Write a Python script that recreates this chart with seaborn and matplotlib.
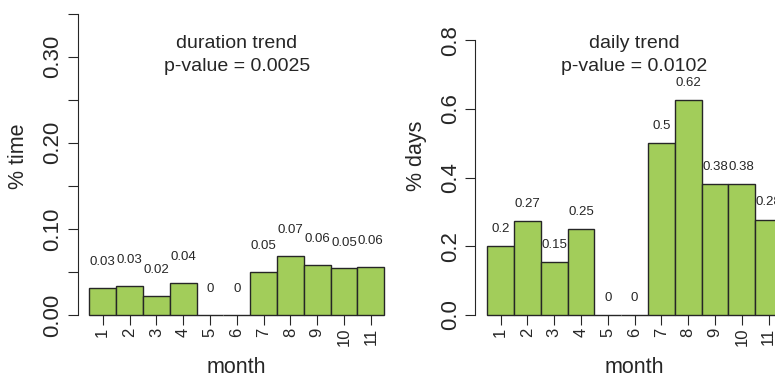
import matplotlib
matplotlib.use("Agg")
import matplotlib.pyplot as plt
import seaborn as sns

# data
months = [1, 2, 3, 4, 5, 6, 7, 8, 9, 10, 11]
month_labels = ["1", "2", "3", "4", "5", "6", "7", "8", "9", "10", "11"]

duration_vals = [0.031, 0.034, 0.022, 0.037, 0.0, 0.0, 0.050, 0.069, 0.058, 0.054, 0.056]
duration_text = ["0.03", "0.03", "0.02", "0.04", "0", "0", "0.05", "0.07", "0.06", "0.05", "0.06"]
duration_title = "duration trend\np-value = 0.0025"
duration_ticks = [0.0, 0.05, 0.10, 0.15, 0.20, 0.25, 0.30, 0.35]
duration_ticklabels = ["0.00", "", "0.10", "", "0.20", "", "0.30", ""]

daily_vals = [0.20, 0.273, 0.153, 0.25, 0.0, 0.0, 0.50, 0.626, 0.381, 0.381, 0.278]
daily_text = ["0.2", "0.27", "0.15", "0.25", "0", "0", "0.5", "0.62", "0.38", "0.38", "0.28"]
daily_title = "daily trend\np-value = 0.0102"
daily_ticks = [0.0, 0.2, 0.4, 0.6, 0.8]
daily_ticklabels = ["0.0", "0.2", "0.4", "0.6", "0.8"]

sns.set_style("ticks")
plt.rcParams["font.family"] = ["Liberation Sans", "DejaVu Sans"]

BAR = "#a2cd5a"
INK = "#262626"

fig = plt.figure(figsize=(7.75, 3.78), dpi=100)


def panel(rect, vals, texts, title, ylabel, yticks, yticklabels, ytop, offset):
    ax = fig.add_axes(rect)
    sns.barplot(x=months, y=vals, native_scale=True, width=1, color=BAR,
                saturation=1, edgecolor=INK, linewidth=1.0, ax=ax)
    for p in ax.patches:
        p.set_clip_on(False)
    ax.set_xlim(0.06, 11.94)
    ax.set_ylim(0, ytop)
    ax.set_xticks(months)
    ax.set_xticklabels(month_labels, rotation=90, fontsize=12, color=INK)
    ax.set_yticks(yticks)
    ax.set_yticklabels(yticklabels, rotation=90, fontsize=16, color=INK, va="center")
    ax.tick_params(axis="x", length=7, width=0.8, color=INK, pad=2)
    ax.tick_params(axis="y", length=7.2, width=0.8, color=INK, pad=3)
    for s in ["top", "right", "bottom"]:
        ax.spines[s].set_visible(False)
    ax.spines["left"].set_color(INK)
    ax.spines["left"].set_linewidth(0.8)
    ax.spines["left"].set_bounds(yticks[0], yticks[-1])

    for m, v, t in zip(months, vals, texts):
        ax.text(m, v + offset, t, ha="center", va="center", fontsize=9.5, color=INK)

    ax.text(0.5, 0.838, title, transform=ax.transAxes, ha="center", va="center",
            fontsize=14, color=INK, linespacing=1.45)

    ax.set_xlabel("month", fontsize=15.5, color=INK)
    ax.xaxis.set_label_coords(0.5, -0.135)
    ax.set_ylabel(ylabel, fontsize=15.5, color=INK, va="center")
    ax.yaxis.set_label_coords(-0.185, 0.513)
    return ax


panel([0.1, 0.1667, 0.411, 0.820], duration_vals, duration_text, duration_title,
      "% time", duration_ticks, duration_ticklabels, 0.360, 0.03)
panel([0.6133, 0.1667, 0.411, 0.820], daily_vals, daily_text, daily_title,
      "% days", daily_ticks, daily_ticklabels, 0.903, 0.05)

plt.savefig("out.png", dpi=100)
